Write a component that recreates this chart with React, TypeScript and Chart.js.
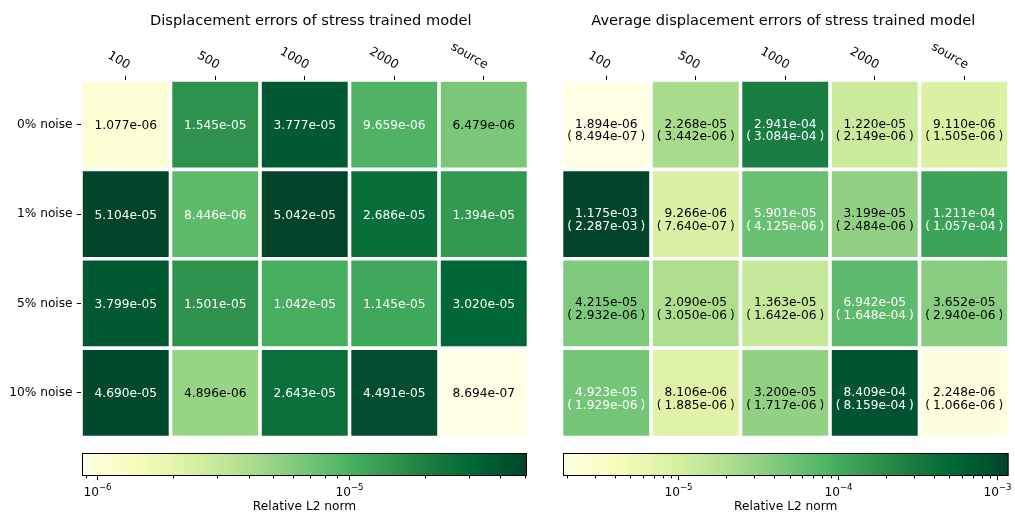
import React, { useEffect, useRef } from "react";
import { Chart, registerables } from "chart.js";

Chart.register(...registerables);

// ---------------- data ----------------
const columns = ["100", "500", "1000", "2000", "source"];
const noiseLevels = ["0% noise", "1% noise", "5% noise", "10% noise"];

// Displacement errors of stress trained model
const disp0 = [1.077e-6, 1.545e-5, 3.777e-5, 9.659e-6, 6.479e-6];
const disp1 = [5.104e-5, 8.446e-6, 5.042e-5, 2.686e-5, 1.394e-5];
const disp5 = [3.799e-5, 1.501e-5, 1.042e-5, 1.145e-5, 3.02e-5];
const disp10 = [4.69e-5, 4.896e-6, 2.643e-5, 4.491e-5, 8.694e-7];

// Average displacement errors (mean) and their standard deviations
const avg0 = [1.894e-6, 2.268e-5, 2.941e-4, 1.22e-5, 9.11e-6];
const avg1 = [1.175e-3, 9.266e-6, 5.901e-5, 3.199e-5, 1.211e-4];
const avg5 = [4.215e-5, 2.09e-5, 1.363e-5, 6.942e-5, 3.652e-5];
const avg10 = [4.923e-5, 8.106e-6, 3.2e-5, 8.409e-4, 2.248e-6];
const std0 = [8.494e-7, 3.442e-6, 3.084e-4, 2.149e-6, 1.505e-6];
const std1 = [2.287e-3, 7.64e-7, 4.125e-6, 2.484e-6, 1.057e-4];
const std5 = [2.932e-6, 3.05e-6, 1.642e-6, 1.648e-4, 2.94e-6];
const std10 = [1.929e-6, 1.885e-6, 1.717e-6, 8.159e-4, 1.066e-6];

const leftTitle = "Displacement errors of stress trained model";
const rightTitle = "Average displacement errors of stress trained model";
const colorbarLabel = "Relative L2 norm";

const dispRows = [disp0, disp1, disp5, disp10];
const avgRows = [avg0, avg1, avg5, avg10];
const stdRows = [std0, std1, std5, std10];

// ---------------- helpers ----------------
const FAMILY = '"DejaVu Sans", sans-serif';
const font = (size: number) => `${size}px ${FAMILY}`;

const YLGN = ["#ffffe5", "#f7fcb9", "#d9f0a3", "#addd8e", "#78c679", "#41ab5d", "#238443", "#006837", "#004529"];
const STOPS = YLGN.map((h) => [parseInt(h.slice(1, 3), 16), parseInt(h.slice(3, 5), 16), parseInt(h.slice(5, 7), 16)]);

function cmapSmooth(t: number): string {
  const q = Math.max(0, Math.min(1, t)) * 8;
  const k = Math.min(7, Math.floor(q));
  const f = q - k;
  const a = STOPS[k], b = STOPS[k + 1];
  const c = a.map((v, i) => Math.round(v + (b[i] - v) * f));
  return `rgb(${c[0]},${c[1]},${c[2]})`;
}
function cmapQ(t: number): string {
  let idx = Math.floor(t * 256);
  idx = Math.max(0, Math.min(255, idx));
  return cmapSmooth(idx / 255);
}
function logNorm(v: number, lo: number, hi: number) {
  return (Math.log10(v) - Math.log10(lo)) / (Math.log10(hi) - Math.log10(lo));
}
function fmt(v: number) {
  const [m, e] = v.toExponential(3).split("e");
  const n = parseInt(e, 10);
  return `${m}e${n < 0 ? "-" : "+"}${String(Math.abs(n)).padStart(2, "0")}`;
}

type Geom = { left: number; top: number; width: number; height: number; aL: number; aT: number; aR: number; aB: number };

function Heatmap({ geom, values, stds, title, showRows, annotSize, titleDx }: { geom: Geom; values: number[][]; stds?: number[][]; title: string; showRows: boolean; annotSize: number; titleDx: number }) {
  const ref = useRef<HTMLCanvasElement>(null);
  useEffect(() => {
    const canvas = ref.current!;
    const all = values.flat();
    const lo = Math.min(...all), hi = Math.max(...all);
    const datasets = values.map((row, r) => ({
      data: row.map(() => [r, r + 1]),
      backgroundColor: row.map((v) => cmapQ(logNorm(v, lo, hi))),
      borderColor: "#ffffff",
      borderWidth: 1.8,
      borderSkipped: false,
      borderRadius: 0,
      inflateAmount: 0,
      grouped: false,
      categoryPercentage: 1,
      barPercentage: 1,
    }));
    const plugin = {
      id: "heatText",
      afterDatasetsDraw(chart: any) {
        const ctx = chart.ctx as CanvasRenderingContext2D;
        const area = chart.chartArea;
        const xs = chart.scales.x;
        ctx.save();
        values.forEach((row, r) => {
          const meta = chart.getDatasetMeta(r);
          row.forEach((v, c) => {
            const el: any = meta.data[c];
            const cx = el.x;
            const cy = (el.y + el.base) / 2;
            ctx.fillStyle = logNorm(v, lo, hi) > 0.5 ? "#ffffff" : "#000000";
            ctx.textAlign = "center";
            ctx.textBaseline = "alphabetic";
            ctx.font = font(annotSize);
            if (stds) {
              ctx.fillText(fmt(v), cx, cy + 3);
              ctx.fillText("(\u2005" + fmt(stds[r][c]) + "\u2005)", cx, cy + 15.8);
            } else {
              ctx.fillText(fmt(v), cx, cy + annotSize * 0.365);
            }
          });
        });
        ctx.fillStyle = "#000000";
        ctx.font = font(12.2);
        ctx.textAlign = "right";
        ctx.textBaseline = "bottom";
        columns.forEach((lab, i) => {
          const x = xs.getPixelForTick(i);
          ctx.save();
          ctx.translate(x, area.top - 8.4);
          ctx.rotate(Math.PI / 6);
          ctx.fillText(lab, 0, 0);
          ctx.restore();
        });
        ctx.font = font(14.6);
        ctx.textAlign = "center";
        ctx.textBaseline = "alphabetic";
        ctx.fillText(title, (area.left + area.right) / 2 + titleDx, 25);
        ctx.restore();
      },
    };
    const tickGrid = { display: true, drawOnChartArea: false, drawTicks: true, tickLength: 4.2, tickWidth: 1, tickColor: "#000000", offset: false };
    const chart = new Chart(canvas, {
      type: "bar",
      data: { labels: columns, datasets: datasets as any },
      options: {
        responsive: false,
        animation: false,
        devicePixelRatio: 1,
        events: [],
        layout: {
          autoPadding: false,
          padding: { left: 0, top: 0, right: geom.width - geom.aR, bottom: geom.height - geom.aB },
        },
        plugins: { legend: { display: false }, tooltip: { enabled: false }, title: { display: false } },
        scales: {
          x: {
            type: "category",
            position: "top",
            offset: true,
            grid: tickGrid as any,
            border: { display: false },
            ticks: { display: false },
            afterFit: (s: any) => {
              s.height = geom.aT;
              s.paddingLeft = 0;
              s.paddingRight = 0;
            },
          },
          y: {
            type: "linear",
            min: 0,
            max: 4,
            reverse: true,
            display: showRows,
            grid: tickGrid as any,
            border: { display: false },
            ticks: {
              autoSkip: false,
              padding: 4.2,
              color: "#000000",
              font: { family: FAMILY, size: 12.2 },
              callback: (v: any) => noiseLevels[Math.floor(Number(v))],
            },
            afterBuildTicks: (s: any) => {
              s.ticks = noiseLevels.map((_, i) => ({ value: i + 0.5 }));
            },
            afterFit: (s: any) => {
              s.width = geom.aL;
              s.paddingTop = 0;
              s.paddingBottom = 0;
            },
          },
        },
      },
      plugins: [plugin],
    });
    return () => chart.destroy();
  }, []);
  return (
    <canvas
      ref={ref}
      width={geom.width}
      height={geom.height}
      style={{ position: "absolute", left: geom.left, top: geom.top, width: geom.width, height: geom.height }}
    />
  );
}

function Colorbar({ geom, values }: { geom: Geom; values: number[][] }) {
  const ref = useRef<HTMLCanvasElement>(null);
  useEffect(() => {
    const canvas = ref.current!;
    const all = values.flat();
    const lo = Math.min(...all), hi = Math.max(...all);
    const plugin = {
      id: "cbar",
      afterDraw(chart: any) {
        const ctx = chart.ctx as CanvasRenderingContext2D;
        const a = chart.chartArea;
        const xs = chart.scales.x;
        const x0 = xs.getPixelForValue(lo), x1 = xs.getPixelForValue(hi);
        ctx.save();
        const g = ctx.createLinearGradient(x0, 0, x1, 0);
        for (let k = 0; k <= 64; k++) g.addColorStop(k / 64, cmapSmooth(k / 64));
        ctx.fillStyle = g;
        ctx.fillRect(x0, a.top, x1 - x0, a.bottom - a.top);
        ctx.strokeStyle = "#000000";
        ctx.lineWidth = 1;
        ctx.strokeRect(x0 + 0.5, a.top + 0.5, x1 - x0 - 1, a.bottom - a.top - 1);
        const e0 = Math.floor(Math.log10(lo)), e1 = Math.ceil(Math.log10(hi));
        for (let e = e0; e <= e1; e++) {
          for (let m = 1; m <= 9; m++) {
            const v = m * Math.pow(10, e);
            if (v < lo * (1 - 1e-9) || v > hi * (1 + 1e-9)) continue;
            const px = Math.round(xs.getPixelForValue(v)) + 0.5;
            const len = m === 1 ? 4.2 : 2.4;
            ctx.strokeStyle = "#000000";
            ctx.beginPath();
            ctx.moveTo(px, a.bottom);
            ctx.lineTo(px, a.bottom + len);
            ctx.stroke();
            if (m === 1) {
              const base = "10", sup = "\u2212" + Math.abs(e);
              ctx.font = font(12.2);
              const w1 = ctx.measureText(base).width;
              ctx.font = font(8.6);
              const w2 = ctx.measureText(sup).width;
              const sx = px - (w1 + w2) / 2;
              const by = a.bottom + 19.5;
              ctx.fillStyle = "#000000";
              ctx.textAlign = "left";
              ctx.textBaseline = "alphabetic";
              ctx.font = font(12.2);
              ctx.fillText(base, sx, by);
              ctx.font = font(8.6);
              ctx.fillText(sup, sx + w1, by - 5.2);
            }
          }
        }
        ctx.font = font(12.2);
        ctx.textAlign = "center";
        ctx.textBaseline = "alphabetic";
        ctx.fillStyle = "#000000";
        ctx.fillText(colorbarLabel, (x0 + x1) / 2, a.bottom + 33.5);
        ctx.restore();
      },
    };
    const chart = new Chart(canvas, {
      type: "scatter",
      data: { datasets: [{ data: [] }] },
      options: {
        responsive: false,
        animation: false,
        devicePixelRatio: 1,
        events: [],
        layout: {
          autoPadding: false,
          padding: { left: geom.aL, top: geom.aT, right: geom.width - geom.aR, bottom: geom.height - geom.aB },
        },
        plugins: { legend: { display: false }, tooltip: { enabled: false } },
        scales: {
          x: { type: "logarithmic", min: lo, max: hi, bounds: "data", display: false },
          y: { type: "linear", min: 0, max: 1, display: false },
        },
      },
      plugins: [plugin],
    });
    return () => chart.destroy();
  }, []);
  return (
    <canvas
      ref={ref}
      width={geom.width}
      height={geom.height}
      style={{ position: "absolute", left: geom.left, top: geom.top, width: geom.width, height: geom.height }}
    />
  );
}

const leftHeat: Geom = { left: 0, top: 0, width: 540, height: 445, aL: 81, aT: 80, aR: 528.5, aB: 437.5 };
const rightHeat: Geom = { left: 540, top: 0, width: 475, height: 445, aL: 21.5, aT: 80, aR: 469, aB: 437.5 };
const leftBar: Geom = { left: 0, top: 445, width: 540, height: 74, aL: 82, aT: 8, aR: 527, aB: 31 };
const rightBar: Geom = { left: 540, top: 445, width: 475, height: 74, aL: 23, aT: 8, aR: 468.5, aB: 31 };

export default function App() {
  return (
    <div style={{ position: "absolute", left: 0, top: 0, width: 1015, height: 519, background: "#ffffff", overflow: "hidden" }}>
      <Heatmap geom={leftHeat} values={dispRows} title={leftTitle} showRows={true} annotSize={12.2} titleDx={6} />
      <Heatmap geom={rightHeat} values={avgRows} stds={stdRows} title={rightTitle} showRows={false} annotSize={12.2} titleDx={-2} />
      <Colorbar geom={leftBar} values={dispRows} />
      <Colorbar geom={rightBar} values={avgRows} />
    </div>
  );
}
